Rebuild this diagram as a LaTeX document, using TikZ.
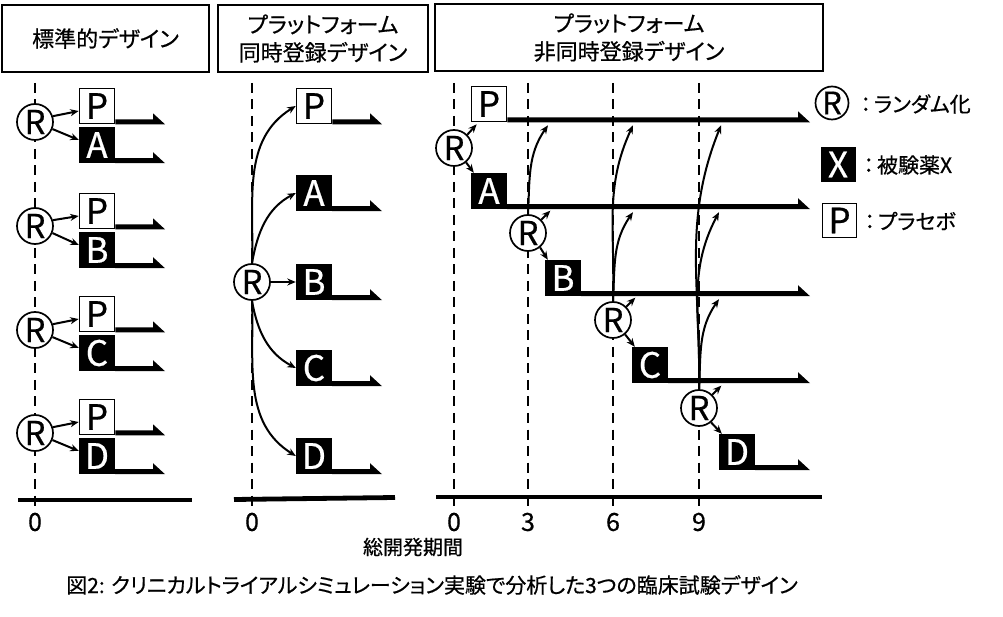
\documentclass[tikz,border=0pt]{standalone}
\usepackage{fontspec}
\setmainfont{Noto Sans CJK JP}[RawFeature=+palt,RawFeature={embolden=0.6}]
\usetikzlibrary{arrows.meta,calc}
\newcommand\armline[2]{\fill (#1.south east) -- ++(0,5) -- ($(#1.south east -| #2)+(-12,5)$) -- ++(0,6) -- (#1.south east -| #2) -- cycle;}
\begin{document}
\begin{tikzpicture}[x=1pt,y=1pt,
  rnode/.style={circle,draw,line width=1.7pt,fill=white,minimum size=36pt,inner sep=0pt,font=\fontsize{33}{33}\selectfont},
  pbox/.style={draw,line width=1.6pt,fill=white,minimum size=35pt,inner sep=0pt,font=\fontsize{35}{35}\selectfont},
  xbox/.style={fill=black,text=white,minimum size=36pt,inner sep=0pt,font=\fontsize{35}{35}\selectfont},
  hdr/.style={draw,line width=1.8pt,minimum height=67pt,align=center,font=\fontsize{22}{28}\selectfont},
  tline/.style={line width=2.9pt,dash pattern=on 10pt off 6.5pt},
  axisline/.style={line width=4.8pt},
  sarr/.style={-{Stealth[length=8.5pt,width=7pt]},line width=2pt},
  tick/.style={font=\fontsize{25}{25}\selectfont},
  lab/.style={font=\fontsize{21}{21}\selectfont}
]
\useasboundingbox (0,0) rectangle (1003,616);
% headers
\node[hdr,minimum width=207pt] (h1) at (105.5,577.5) {標準的デザイン};
\node[hdr,minimum width=210pt] (h2) at (323,577.5) {プラットフォーム\\同時登録デザイン};
\node[hdr,minimum width=388pt] (h3) at (629,578.5) {プラットフォーム\\非同時登録デザイン};
% arm end coordinates
\coordinate (e1) at (165,0);
\coordinate (e2) at (382,0);
\coordinate (e3) at (810,0);
% time lines
\foreach \x in {35,252,454,528,613,699} \draw[tline] (\x,533) -- (\x,106);
\draw[axisline] (18,116) -- (192,116);
\draw[axisline] (234,116.5) -- (395,118.5);
\draw[axisline] (436,119) -- (822,119);
\node[tick] (t10) at (35,94) {0};
\node[tick] (t20) at (252,94) {0};
\node[tick] (t30) at (454,94) {0};
\node[tick] (t33) at (528,94) {3};
\node[tick] (t36) at (613,94) {6};
\node[tick] (t39) at (699,94) {9};
% panel 1
\foreach \L/\yp/\yx/\yr [count=\i] in {A/510/471/494, B/405/366/390, C/302/263/286, D/199/160/183}{
  \node[pbox] (p1\i) at (97,\yp) {P};
  \node[xbox] (x1\i) at (97,\yx) {\L};
  \armline{p1\i}{e1}
  \armline{x1\i}{e1}
  \node[rnode] (r1\i) at (35,\yr) {R};
  \draw[sarr] (r1\i.18) -- ([yshift=-5pt]p1\i.west);
  \draw[sarr] (r1\i.-22) -- ([yshift=5pt]x1\i.west);
}
% panel 2
\node[pbox] (p2) at (314,510) {P};
\node[xbox] (a2) at (314,423) {A};
\node[xbox] (b2) at (314,334) {B};
\node[xbox] (c2) at (314,248) {C};
\node[xbox] (d2) at (314,160) {D};
\foreach \n in {p2,a2,b2,c2,d2} {\armline{\n}{e2}}
\node[rnode] (r2) at (252,334) {R};
\draw[sarr] (r2.north) to[out=88,in=212] (p2.west);
\draw[sarr] (r2.north) to[out=80,in=208] (a2.west);
\draw[sarr] (r2.east) -- (b2.west);
\draw[sarr] (r2.south) to[out=-80,in=152] (c2.west);
\draw[sarr] (r2.south) to[out=-88,in=148] (d2.west);
% panel 3
\node[pbox] (p3) at (489,512) {P};
\node[xbox] (a3) at (489,425) {A};
\node[xbox] (b3) at (563,338) {B};
\node[xbox] (c3) at (650,251) {C};
\node[xbox] (d3) at (737,164) {D};
\foreach \n in {p3,a3,b3,c3,d3} {\armline{\n}{e3}}
\node[rnode] (r30) at (454,468) {R};
\node[rnode] (r33) at (528,383) {R};
\node[rnode] (r36) at (613,296) {R};
\node[rnode] (r39) at (699,208) {R};
% R at 0
\draw[sarr] (r30.45) -- ([shift={(6pt,-2pt)}]p3.south west);
\draw[sarr] (r30.-50) -- ([shift={(3pt,0pt)}]a3.north west);
% R at 3
\draw[sarr] (r33.45) -- ++(9,9);
\draw[sarr] (r33.-50) -- ([shift={(3pt,0pt)}]b3.north west);
\draw[sarr] (r33.north) to[out=87,in=-125] ($(r33 |- p3.south)+(20,-3)$);
% R at 6
\draw[sarr] (r36.45) -- ++(9,9);
\draw[sarr] (r36.-50) -- ([shift={(3pt,0pt)}]c3.north west);
\draw[sarr] (r36.north) to[out=87,in=-125] ($(r36 |- a3.south)+(20,-3)$);
\draw[sarr] (r36.north) to[out=88,in=-115] ($(r36 |- p3.south)+(20,-3)$);
% R at 9
\draw[sarr] (r39.45) -- ++(9,9);
\draw[sarr] (r39.-50) -- ([shift={(3pt,0pt)}]d3.north west);
\draw[sarr] (r39.north) to[out=87,in=-125] ($(r39 |- b3.south)+(20,-3)$);
\draw[sarr] (r39.north) to[out=88,in=-118] ($(r39 |- a3.south)+(20,-3)$);
\draw[sarr] (r39.north) to[out=89,in=-112] ($(r39 |- p3.south)+(22,-3)$);
% legend
\node[rnode,minimum size=33pt,font=\fontsize{31}{31}\selectfont] (lr) at (832,513) {R};
\node[lab,anchor=west] (lrt) at (854,512) {\kern3pt：\kern3pt ランダム化};
\node[xbox,minimum size=35pt] (lx) at (838,451.5) {X};
\node[lab,anchor=west] (lxt) at (858,451) {\kern2pt：\kern3pt 被験薬X};
\node[pbox,minimum size=34pt] (lp) at (839.5,395.5) {P};
\node[lab,anchor=west] (lpt) at (860,395) {\kern1pt：\kern3pt プラセボ};
% bottom texts
\node[lab,font=\fontsize{20}{20}\selectfont] (tot) at (413,69) {総開発期間};
\node[lab] (cap) at (432,31) {図2: クリニカルトライアルシミュレーション実験で分析した3つの臨床試験デザイン};
\end{tikzpicture}
\end{document}
